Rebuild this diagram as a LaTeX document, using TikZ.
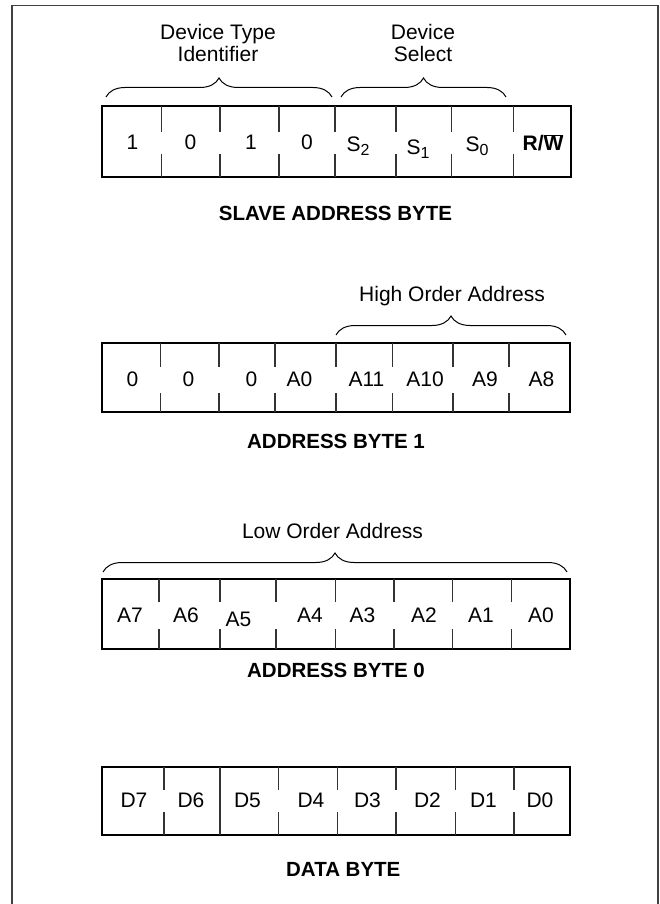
\documentclass[tikz,border=0pt]{standalone}
\usepackage{fontspec}
\setmainfont{Liberation Sans}
\usetikzlibrary{decorations.pathreplacing}
\newcommand\subidx[1]{\raisebox{-3.5pt}{\fontsize{16}{16}\selectfont #1}}
\begin{document}
\begin{tikzpicture}[x=1pt,y=-1pt,
  frameline/.style={line width=1.6pt,draw=black!75},
  regbox/.style={line width=2pt,draw=black},
  divline/.style={line width=1.1pt,draw=black!80},
  bracep/.style={line width=1pt,draw=black,decorate,decoration={brace,amplitude=19pt}},
  celltxt/.style={anchor=base,inner sep=0pt,font=\fontsize{21}{25}\selectfont},
  headtxt/.style={anchor=base,inner sep=0pt,font=\fontsize{21}{25}\selectfont},
  regname/.style={anchor=base,inner sep=0pt,font=\fontsize{20.5}{24}\selectfont\bfseries}]
\useasboundingbox (0,0) rectangle (659,904);
% outer frame
\draw[frameline] (11.7,905) -- (11.7,5.6) -- (658.2,5.6) -- (658.2,905);

% ---------- Slave address byte ----------
\node[headtxt] (hdt) at (218,39.3) {Device Type};
\node[headtxt] (hid) at (218,61.7) {Identifier};
\node[headtxt] (hd) at (423,39.3) {Device};
\node[headtxt] (hs) at (423,61.7) {Select};
\draw[bracep] (106,97) -- (332,97);
\draw[bracep] (341,97) -- (506,97);
\draw[regbox] (102,106.5) rectangle (571,177);
\foreach \x in {161.7,220,279,335,396,451.7,513.3}{
  \draw[divline] (\x,106.5) -- (\x,132);
  \draw[divline] (\x,154) -- (\x,177);
}
\node[celltxt] (r1a) at (132.5,150) {1};
\node[celltxt] (r1b) at (190.5,150) {0};
\node[celltxt] (r1c) at (251,150) {1};
\node[celltxt] (r1d) at (307,150) {0};
\node[celltxt] (r1e) at (358,152) {S\subidx{2}};
\node[celltxt] (r1f) at (418,155) {S\subidx{1}};
\node[celltxt] (r1g) at (477,152) {S\subidx{0}};
\node[celltxt] (r1h) at (543,151) {\bfseries R/$\overline{\hbox{\bfseries W}}$};
\node[regname] (n1) at (335.5,220) {SLAVE ADDRESS BYTE};

% ---------- Address byte 1 ----------
\node[headtxt] (hhoa) at (452,301.7) {High Order Address};
\draw[bracep] (336,335) -- (566,335);
\draw[regbox] (101.5,343) rectangle (569.5,412);
\foreach \x in {160.7,219,275,336,392.7,453,509}{
  \draw[divline] (\x,343) -- (\x,367);
  \draw[divline] (\x,393) -- (\x,412);
}
\node[celltxt] (r2a) at (132.5,386.7) {0};
\node[celltxt] (r2b) at (188.5,386.7) {0};
\node[celltxt] (r2c) at (251.5,386.7) {0};
\node[celltxt] (r2d) at (299.5,386.7) {A0};
\node[celltxt] (r2e) at (366.5,386.7) {A11};
\node[celltxt] (r2f) at (425,386.7) {A10};
\node[celltxt] (r2g) at (485,386.7) {A9};
\node[celltxt] (r2h) at (541.5,386.7) {A8};
\node[regname] (n2) at (336,448.5) {ADDRESS BYTE 1};

% ---------- Address byte 0 ----------
\node[headtxt] (hloa) at (332.5,538.3) {Low Order Address};
\draw[bracep] (103,572) -- (567,572);
\draw[regbox] (102,578.5) rectangle (570,649);
\foreach \x in {159,220,276,335.7,394,452.7,511.7}{
  \draw[divline] (\x,578.5) -- (\x,602);
  \draw[divline] (\x,629) -- (\x,649);
}
\node[celltxt] (r3a) at (130,622.5) {A7};
\node[celltxt] (r3b) at (186,622.5) {A6};
\node[celltxt] (r3c) at (238.5,626) {A5};
\node[celltxt] (r3d) at (310,622.5) {A4};
\node[celltxt] (r3e) at (362.5,622.5) {A3};
\node[celltxt] (r3f) at (424,622.5) {A2};
\node[celltxt] (r3g) at (481,622.5) {A1};
\node[celltxt] (r3h) at (541,622.5) {A0};
\node[regname] (n3) at (336,677.5) {ADDRESS BYTE 0};

% ---------- Data byte ----------
\draw[regbox] (102,766.5) rectangle (570,835);
\foreach \x in {164,278.5,337.7,396,455.7,514}{
  \draw[divline] (\x,766.5) -- (\x,790);
  \draw[divline] (\x,812) -- (\x,835);
}
\draw[divline] (220,766.5) -- (220,835);
\node[celltxt] (r4a) at (134,807) {D7};
\node[celltxt] (r4b) at (191,807) {D6};
\node[celltxt] (r4c) at (247.5,807) {D5};
\node[celltxt] (r4d) at (311,807) {D4};
\node[celltxt] (r4e) at (367.5,807) {D3};
\node[celltxt] (r4f) at (427.5,807) {D2};
\node[celltxt] (r4g) at (483.5,807) {D1};
\node[celltxt] (r4h) at (540,807) {D0};
\node[regname] (n4) at (343.3,876.7) {DATA BYTE};
\end{tikzpicture}
\end{document}
